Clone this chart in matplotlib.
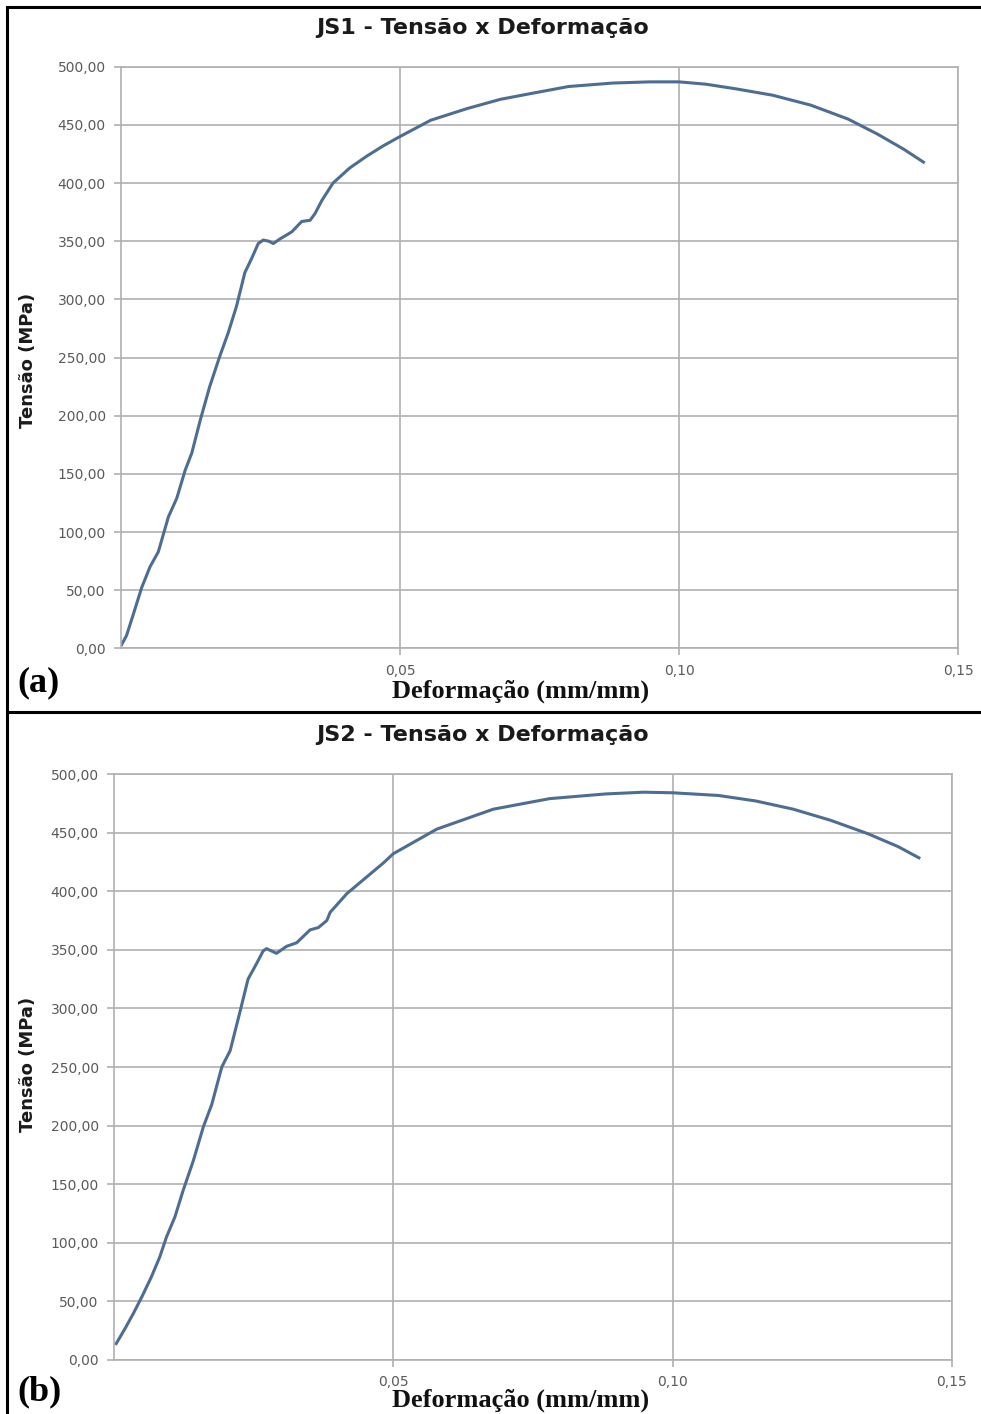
import matplotlib
matplotlib.use("Agg")
import matplotlib.pyplot as plt
from matplotlib.lines import Line2D

# JS1 curve (strain mm/mm, stress MPa)
strain_js1 = [0.0001, 0.0010, 0.0022, 0.0037, 0.0052, 0.0067, 0.0085, 0.0100, 0.0115, 0.0127,
              0.0142, 0.0159, 0.0177, 0.0192, 0.0207, 0.0222, 0.0234, 0.0246, 0.0255, 0.0265,
              0.0273, 0.0285, 0.0306, 0.0324, 0.0339, 0.0348, 0.0360, 0.0380, 0.0410, 0.0440,
              0.0470, 0.0500, 0.0555, 0.0620, 0.0680, 0.0735, 0.0802, 0.0882, 0.0948, 0.1000,
              0.1048, 0.1102, 0.1168, 0.1236, 0.1303, 0.1356, 0.1403, 0.1438]
stress_js1 = [3, 11, 29, 52, 70, 83, 113, 129, 153, 168,
              196, 225, 251, 271, 294, 323, 335, 348, 351, 350,
              348, 352, 358, 367, 368, 374, 385, 400, 413, 423,
              432, 440, 454, 464, 472, 477, 483, 486, 487, 487,
              485, 481, 475.5, 467, 455, 442, 429, 418]

# JS2 curve
strain_js2 = [0.0004, 0.0020, 0.0035, 0.0050, 0.0067, 0.0082, 0.0094, 0.0109, 0.0124, 0.0142,
              0.0160, 0.0175, 0.0193, 0.0208, 0.0226, 0.0240, 0.0255, 0.0267, 0.0273, 0.0291,
              0.0309, 0.0327, 0.0351, 0.0366, 0.0381, 0.0387, 0.0417, 0.0452, 0.0482, 0.0500,
              0.0578, 0.0679, 0.0780, 0.0880, 0.0948, 0.1000, 0.1082, 0.1149, 0.1216, 0.1283,
              0.1350, 0.1404, 0.1441]
stress_js2 = [14, 27, 40, 54, 71, 88, 105, 122, 145, 170,
              199, 218, 250, 264, 298, 325, 338, 349, 351, 347,
              353, 356, 367, 369, 375, 382, 398, 412, 424, 432,
              453, 470, 479, 483, 484.5, 484, 481.7, 477, 470, 460.5,
              449, 438, 428.5]

y_ticks = [0, 50, 100, 150, 200, 250, 300, 350, 400, 450, 500]
y_labels = ["0,00", "50,00", "100,00", "150,00", "200,00", "250,00",
            "300,00", "350,00", "400,00", "450,00", "500,00"]
x_ticks = [0.05, 0.10, 0.15]
x_labels = ["0,05", "0,10", "0,15"]

titles = ["JS1 - Tensão x Deformação", "JS2 - Tensão x Deformação"]
tags = ["(a)", "(b)"]

line_color = "#4d6d92"
grid_color = "#b0b0b0"
tick_color = "#5a5a5a"

fig = plt.figure(figsize=(9.81, 14.14), dpi=100)

# axes boxes in figure fractions
boxes = [[0.1233, 0.5415, 0.8533, 0.4113],
         [0.1162, 0.0382, 0.8541, 0.4144]]
curves = [(strain_js1, stress_js1), (strain_js2, stress_js2)]
title_y = [0.980, 0.480]
ylab_y = [0.745, 0.247]
xlab_y = [0.511, 0.010]
tag_y = [0.517, 0.016]

for i in range(2):
    ax = fig.add_axes(boxes[i])
    xs, ys = curves[i]
    ax.plot(xs, ys, color=line_color, lw=2.2, solid_joinstyle="round")
    ax.set_xlim(0, 0.15)
    ax.set_ylim(0, 500)
    ax.set_yticks(y_ticks)
    ax.set_yticklabels(y_labels)
    ax.set_xticks(x_ticks)
    ax.set_xticklabels(x_labels)
    ax.grid(True, color=grid_color, lw=1.2)
    ax.set_axisbelow(True)
    for sp in ax.spines.values():
        sp.set_color(grid_color)
        sp.set_linewidth(1.2)
    ax.tick_params(axis="both", colors=grid_color, length=5, width=1.2,
                   labelcolor=tick_color, labelsize=10, pad=6)
    for lab in ax.get_xticklabels() + ax.get_yticklabels():
        lab.set_family("DejaVu Sans")

    fig.text(0.492, title_y[i], titles[i], ha="center", va="center",
             family="DejaVu Sans", fontsize=16, fontweight="bold", color="#1a1a1a")
    fig.text(0.029, ylab_y[i], "Tensão (MPa)", rotation=90, ha="center", va="center",
             family="DejaVu Sans", fontsize=13, fontweight="bold", color="#1a1a1a")
    fig.text(0.531, xlab_y[i], "Deformação (mm/mm)", ha="center", va="center",
             family="Liberation Serif", fontsize=19, fontweight="bold", color="#111111")
    fig.text(0.018, tag_y[i], tags[i], ha="left", va="center",
             family="Liberation Serif", fontsize=26, fontweight="bold", color="#000000")

# outer frame and separator
fr = dict(color="black", lw=2.2, transform=fig.transFigure)
fig.add_artist(Line2D([0.0075, 0.0075], [0.0, 0.995], **fr))
fig.add_artist(Line2D([0.0075, 0.998], [0.995, 0.995], **fr))
fig.add_artist(Line2D([0.0075, 0.998], [0.4967, 0.4967], **fr))

fig.savefig("out.png", dpi=100)
